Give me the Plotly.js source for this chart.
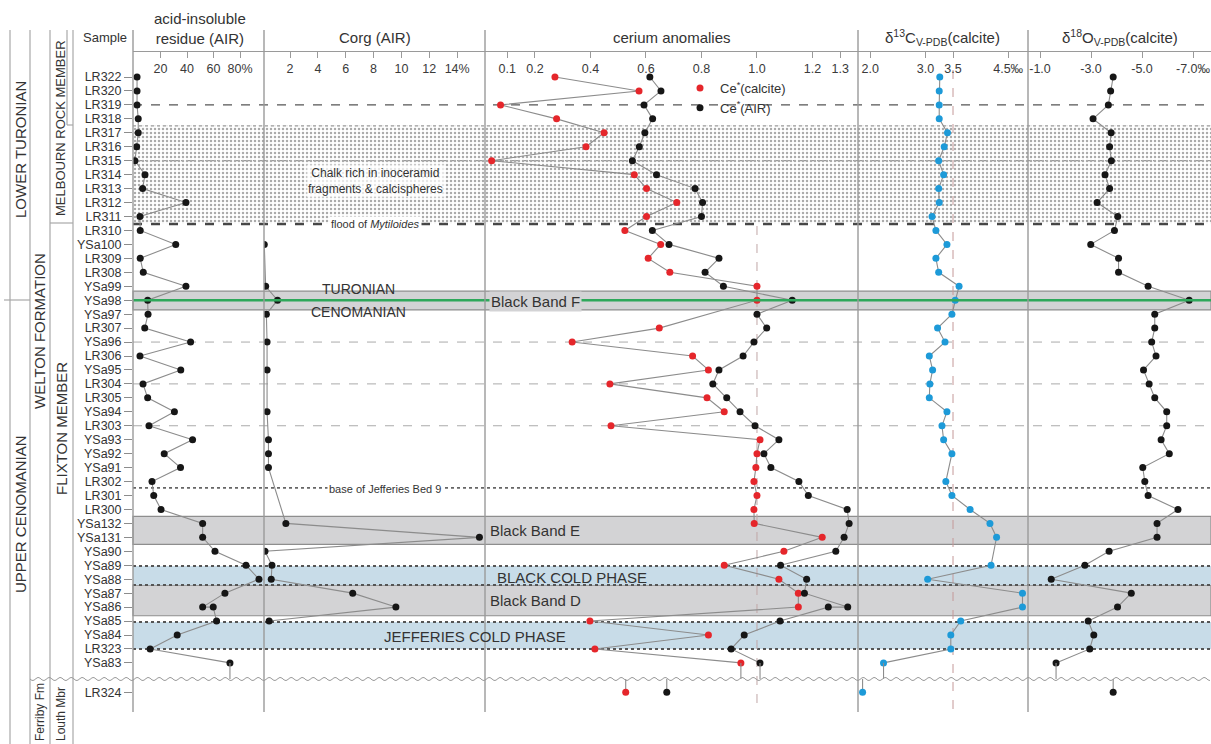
<!DOCTYPE html>
<html><head><meta charset="utf-8">
<script src="https://cdn.plot.ly/plotly-3.0.1.min.js"></script>
<style>body{margin:0;background:#fff}#chart{width:1211px;height:744px}</style>
</head><body><div id="chart"></div>
<script>
// ---------------- data ----------------
const samples = ['LR322','LR320','LR319','LR318','LR317','LR316','LR315','LR314','LR313','LR312','LR311','LR310','YSa100','LR309','LR308','YSa99','YSa98','YSa97','LR307','YSa96','LR306','YSa95','LR304','LR305','YSa94','LR303','YSa93','YSa92','YSa91','LR302','LR301','LR300','YSa132','YSa131','YSa90','YSa89','YSa88','YSa87','YSa86','YSa85','YSa84','LR323','YSa83','LR324'];

// acid-insoluble residue (%), YSa86 has two measurements
const airPct = [2.3,2.3,2.3,3.2,3.2,2.0,0.7,8.3,6.5,39.2,4.5,4.7,31.5,4.7,7.0,39.2,10.3,10.6,8.1,42.7,4.5,35.3,6.8,10.3,30.5,11.3,44.2,22.8,35.1,13.6,14.9,20.4,51.8,51.8,61.1,84.5,94.3,68.6,[51.8,59.8],62.3,32.6,12.2,72.4,null];
// Corg of AIR (%)
const corgPct = [null,null,null,null,null,null,null,null,null,null,null,null,0.15,null,null,0.25,1.1,0.3,null,0.35,null,0.35,null,null,0.35,null,0.45,0.45,0.45,null,null,null,1.7,15.6,0.2,0.7,0.65,6.5,9.6,0.5,null,null,null,null];
// cerium anomalies
const ceCalcite = [0.272,0.575,0.076,0.278,0.449,0.384,0.044,0.558,0.602,0.711,0.602,0.524,0.653,0.608,0.686,1.0,1.0,null,0.648,0.334,0.768,0.825,0.47,0.82,0.882,0.474,1.011,1.0,0.996,0.989,1.0,0.989,0.99,1.235,1.097,0.882,1.079,1.149,1.149,0.398,0.825,0.416,0.942,0.527];
const ceAIR = [0.614,0.654,0.593,0.624,0.596,0.576,0.551,0.638,0.777,0.804,0.80,0.623,0.683,0.863,0.813,0.879,1.127,1.0,1.035,0.989,0.95,0.863,0.841,0.891,0.939,0.993,1.079,1.025,1.05,1.151,1.185,1.325,1.332,1.314,1.284,1.085,1.179,1.171,[1.327,1.257],1.083,0.954,0.907,1.011,0.675];
// carbon and oxygen isotopes of calcite (permil V-PDB)
const d13C = [3.26,3.25,3.25,3.25,3.40,3.34,3.24,3.33,3.24,3.25,3.12,3.19,3.39,3.19,3.24,3.61,3.54,3.48,3.22,3.355,3.07,3.13,3.08,3.07,3.39,3.30,3.33,3.48,null,3.37,3.48,3.81,4.17,4.29,null,4.19,3.04,4.76,4.76,3.64,3.46,3.46,2.24,1.86];
const d18O = [-3.87,-3.77,-3.68,-3.08,-3.79,-3.73,-3.80,-3.55,-3.73,-3.24,-4.05,-3.92,-2.99,-4.08,-4.08,-5.24,-6.85,-5.50,-5.50,-5.38,-5.55,-5.06,-5.28,-5.50,-5.97,-5.97,-5.75,-6.07,-5.03,-5.11,-5.24,-6.41,-5.59,-5.59,-3.71,-2.76,-1.44,-4.58,-4.04,-2.89,-3.11,-2.95,-1.63,-3.87];

// tick labels
const airTicks = [20,40,60,80], airTickText = ['20','40','60','80%'];
const corgTicks = [2,4,6,8,10,12,14], corgTickText = ['2','4','6','8','10','12','14%'];
const ceTicks = [0.1,0.2,0.4,0.6,0.8,1.0,1.2,1.3], ceTickText = ['0.1','0.2','0.4','0.6','0.8','1.0','1.2','1.3'];
const c13Ticks = [2.0,3.0,3.5,4.5], c13TickText = ['2.0','3.0','3.5','4.5‰'];
const o18Ticks = [-1,-3,-5,-7], o18TickText = ['-1.0','-3.0','-5.0','-7.0‰'];

// ---------------- layout helpers ----------------
const W = 1211, H = 744;
const ROW0 = 77, ROWH = 13.95, PTOP = 51, PBOT = 712;
const px2row = p => (p - ROW0) / ROWH;
const X = p => p / W, Y = p => 1 - p / H;
const rowPos = samples.map((s, i) => s === 'LR324' ? 44.1 : i);
const WAVE = px2row(679);
const iLast = samples.indexOf('YSa83'), iLR324 = samples.indexOf('LR324');

const FONT = 'Liberation Sans, Arial, Helvetica, sans-serif';
const LINEC = '#8c8c8c';
const BLACK = '#161616', RED = '#e5262b', BLUE = '#1d9ad8';

function flat(vals) {
  const x = [], y = [];
  vals.forEach((v, i) => {
    if (i === iLR324) return;
    if (Array.isArray(v)) v.forEach(w => { x.push(w); y.push(rowPos[i]); });
    else { x.push(v); y.push(rowPos[i]); }
  });
  return {x, y};
}

const traces = [];
// stipple (chalk with inoceramid fragments)
traces.push({type:'scatter', xaxis:'x', yaxis:'y', x:[0,1,1,0,0], y:[3.5,3.5,10.5,10.5,3.5],
  mode:'lines', line:{width:0}, fill:'toself', fillcolor:'rgba(0,0,0,0)',
  fillpattern:{shape:'.', fgcolor:'#ababab', bgcolor:'rgba(0,0,0,0)', size:4, solidity:0.3},
  hoverinfo:'skip', showlegend:false});

function addSeries(vals, xa, color) {
  const s = flat(vals);
  traces.push({type:'scatter', mode:'lines+markers', xaxis:xa, yaxis:'y', x:s.x, y:s.y,
    connectgaps:true, line:{color:LINEC, width:1.1}, marker:{color:color, size:7},
    showlegend:false, hoverinfo:'x+y'});
  const vLast = vals[iLast];
  if (vLast != null && !Array.isArray(vLast)) {
    traces.push({type:'scatter', mode:'lines', xaxis:xa, yaxis:'y', x:[vLast, vLast], y:[rowPos[iLast], WAVE],
      line:{color:LINEC, width:1.1}, showlegend:false, hoverinfo:'skip'});
  }
  const v24 = vals[iLR324];
  if (v24 != null) {
    traces.push({type:'scatter', mode:'lines', xaxis:xa, yaxis:'y', x:[v24, v24], y:[WAVE, rowPos[iLR324]],
      line:{color:LINEC, width:1.1}, showlegend:false, hoverinfo:'skip'});
    traces.push({type:'scatter', mode:'markers', xaxis:xa, yaxis:'y', x:[v24], y:[rowPos[iLR324]],
      marker:{color:color, size:7}, showlegend:false});
  }
}
addSeries(airPct, 'x2', BLACK);
addSeries(corgPct, 'x3', BLACK);
addSeries(ceCalcite, 'x4', RED);
addSeries(ceAIR, 'x4', BLACK);
addSeries(d13C, 'x5', BLUE);
addSeries(d18O, 'x6', BLACK);
// legend entries
traces.push({type:'scatter', mode:'markers', xaxis:'x4', yaxis:'y', x:[null], y:[null], name:'Ce<sup>*</sup>(calcite)', marker:{color:RED, size:7}});
traces.push({type:'scatter', mode:'markers', xaxis:'x4', yaxis:'y', x:[null], y:[null], name:'Ce<sup>*</sup>(AIR)', marker:{color:BLACK, size:7}});

function xaxis(l, r, range, tv, tt) {
  return {domain:[X(l), r >= W ? 1 : X(r)], range:range, anchor:'free', position:Y(PTOP), side:'bottom',
    showline:true, linecolor:'#9a9a9a', linewidth:1.3, ticks:'outside', ticklen:6, tickcolor:'#9a9a9a',
    tickmode:'array', tickvals:tv, ticktext:tt, ticklabeloverflow:'allow',
    tickfont:{size:12.5, color:'#3a3a3a'}, showgrid:false, zeroline:false, fixedrange:true};
}

const shapes = [];
const hline = (row, color, width, dash, x0px) => shapes.push({type:'line', xref:'paper', yref:'y',
  x0:X(x0px || 133), x1:1, y0:row, y1:row, line:{color, width, dash}, layer:'below'});
// bands
const band = (r0, r1, fill, lc) => shapes.push({type:'rect', xref:'paper', yref:'y', x0:X(133), x1:1,
  y0:r0, y1:r1, fillcolor:fill, line:{color:lc, width:lc ? 1.2 : 0}, layer:'below'});
band(15.35, 16.7, '#d3d3d5', '#8e8e8e');
band(31.5, 33.5, '#d3d3d5', '#8e8e8e');
band(36.42, 38.62, '#d3d3d5', '#8e8e8e');
band(35.05, 36.42, '#c8dce8', null);
band(39.07, 41.0, '#c8dce8', null);
// horizontal guide lines
hline(2, '#555', 1.2, 'dash');
hline(3.5, '#9a9a9a', 1.2, 'dot');
hline(6, '#9a9a9a', 1.2, 'dashdot');
hline(10.54, '#454545', 2.4, 'dash');
hline(19, '#aaaaaa', 1, 'dash');
hline(22, '#aaaaaa', 1, 'dash');
hline(25, '#aaaaaa', 1, 'dash');
hline(29.45, '#666', 1.8, 'dot');
hline(35.05, '#555', 2, 'dot');
hline(36.42, '#555', 2, 'dot');
hline(39.07, '#555', 2, 'dot');
hline(41.0, '#555', 2, 'dot');
shapes.push({type:'line', xref:'paper', yref:'y', x0:X(133), x1:1, y0:16, y1:16, line:{color:'#2fa85b', width:2.4}, layer:'above'});
// vertical reference lines
shapes.push({type:'line', xref:'x4', yref:'paper', x0:1.0, x1:1.0, y0:Y(226), y1:Y(712), line:{color:'#c0a6a6', width:1, dash:'dash'}, layer:'below'});
shapes.push({type:'line', xref:'x5', yref:'paper', x0:3.5, x1:3.5, y0:Y(70), y1:Y(712), line:{color:'#c49898', width:1, dash:'dash'}, layer:'below'});
// panel separators
[133, 264, 485, 858, 1028].forEach(p => shapes.push({type:'line', xref:'paper', yref:'paper',
  x0:X(p), x1:X(p), y0:Y(30), y1:Y(712), line:{color:'#9a9a9a', width:1.4}, layer:'above'}));
// left strip boxes
[10, 30, 50, 73].forEach(p => shapes.push({type:'line', xref:'paper', yref:'paper',
  x0:X(p), x1:X(p), y0:Y(30), y1:0, line:{color:'#a8a8a8', width:1.2}}));
shapes.push({type:'line', xref:'paper', yref:'paper', x0:X(67), x1:X(67), y0:Y(30), y1:Y(125), line:{color:'#a8a8a8', width:1.2}});
shapes.push({type:'line', xref:'paper', yref:'paper', x0:X(67), x1:X(73), y0:Y(125), y1:Y(125), line:{color:'#a8a8a8', width:1.2}});
shapes.push({type:'line', xref:'paper', yref:'paper', x0:X(4), x1:X(30), y0:Y(300), y1:Y(300), line:{color:'#a8a8a8', width:1.2}});
shapes.push({type:'line', xref:'paper', yref:'paper', x0:X(50), x1:X(73), y0:Y(223), y1:Y(223), line:{color:'#a8a8a8', width:1.2}});
// unconformity (wavy line)
let d = '';
for (let p = 30; p <= W; p += 2) {
  const yy = 679 + 1.6 * Math.sin((p - 30) / 11 * 2 * Math.PI);
  d += (p === 30 ? 'M' : 'L') + X(p).toFixed(5) + ',' + Y(yy).toFixed(5);
}
shapes.push({type:'path', xref:'paper', yref:'paper', path:d, line:{color:'#9a9a9a', width:1}});

const ann = [];
const txt = (text, x, y, size, extra) => ann.push(Object.assign({text, x:X(x), y:Y(y), xref:'paper', yref:'paper',
  showarrow:false, xanchor:'center', yanchor:'middle', font:{size, color:'#333', family:FONT}}, extra || {}));
txt('Sample', 105, 38, 13);
txt('acid-insoluble<br>residue (AIR)', 200, 29, 15);
txt('Corg (AIR)', 375, 38, 15);
txt('cerium anomalies', 672, 38, 15);
txt('δ<sup>13</sup>C<sub>V-PDB</sub>(calcite)', 943, 38, 15);
txt('δ<sup>18</sup>O<sub>V-PDB</sub>(calcite)', 1120, 38, 15);
txt('LOWER TURONIAN', 20, 150, 15, {textangle:-90});
txt('UPPER CENOMANIAN', 20, 514, 15, {textangle:-90});
txt('WELTON FORMATION', 40, 331, 15, {textangle:-90});
txt('MELBOURN ROCK MEMBER', 60, 128, 13, {textangle:-90});
txt('FLIXTON MEMBER', 61, 428, 15, {textangle:-90});
txt('Ferriby Fm', 40, 712, 12, {textangle:-90});
txt('Louth Mbr', 61, 714, 12, {textangle:-90});
txt('Chalk rich in inoceramid<br>fragments &amp; calcispheres', 375, 181, 12, {bgcolor:'rgba(255,255,255,0.7)'});
txt('flood of <i>Mytiloides</i>', 375, 224, 11, {bgcolor:'#ffffff'});
txt('TURONIAN', 358, 289, 14);
txt('CENOMANIAN', 358, 312, 14);
txt('Black Band F', 535, 301, 15, {bgcolor:'#d3d3d5'});
txt('base of Jefferies Bed 9', 385, 489, 11, {bgcolor:'#ffffff'});
txt('Black Band E', 535, 530, 15);
txt('BLACK COLD PHASE', 572, 577, 15);
txt('Black Band D', 535, 600, 15);
txt('JEFFERIES COLD PHASE', 475, 636, 15);

// delta18O axis: -1 at 1040 px, -7 at 1193 px
const o18px = 153 / 6;
const layout = {
  width:W, height:H, autosize:false, margin:{l:0, r:0, t:0, b:0},
  paper_bgcolor:'#ffffff', plot_bgcolor:'rgba(0,0,0,0)',
  font:{family:FONT, color:'#333'},
  showlegend:true,
  legend:{x:X(680), y:Y(73), xanchor:'left', yanchor:'top', bgcolor:'rgba(0,0,0,0)',
    font:{size:13, color:'#333'}, tracegroupgap:0, itemwidth:30},
  xaxis:{domain:[X(133), 1], range:[0,1], visible:false, anchor:'y', fixedrange:true},
  xaxis2:xaxis(133, 264, [-0.75, 98.1], airTicks, airTickText),
  xaxis3:xaxis(264, 485, [0.13, 16.0], corgTicks, corgTickText),
  xaxis4:xaxis(485, 858, [0.02, 1.364], ceTicks, ceTickText),
  xaxis5:xaxis(858, 1028, [1.777, 4.86], c13Ticks, c13TickText),
  xaxis6:xaxis(1028, W, [-1 + 12 / o18px, -1 - 171 / o18px], o18Ticks, o18TickText),
  yaxis:{domain:[Y(PBOT), Y(PTOP)], range:[px2row(PBOT), px2row(PTOP)], anchor:'x2',
    tickmode:'array', tickvals:rowPos, ticktext:samples, ticks:'outside', ticklen:8, tickcolor:'#8c8c8c',
    tickfont:{size:12.5, color:'#333'}, showgrid:false, zeroline:false, showline:false, fixedrange:true},
  shapes, annotations:ann
};
Plotly.newPlot('chart', traces, layout, {displayModeBar:false, staticPlot:true});
</script>
</body></html>
